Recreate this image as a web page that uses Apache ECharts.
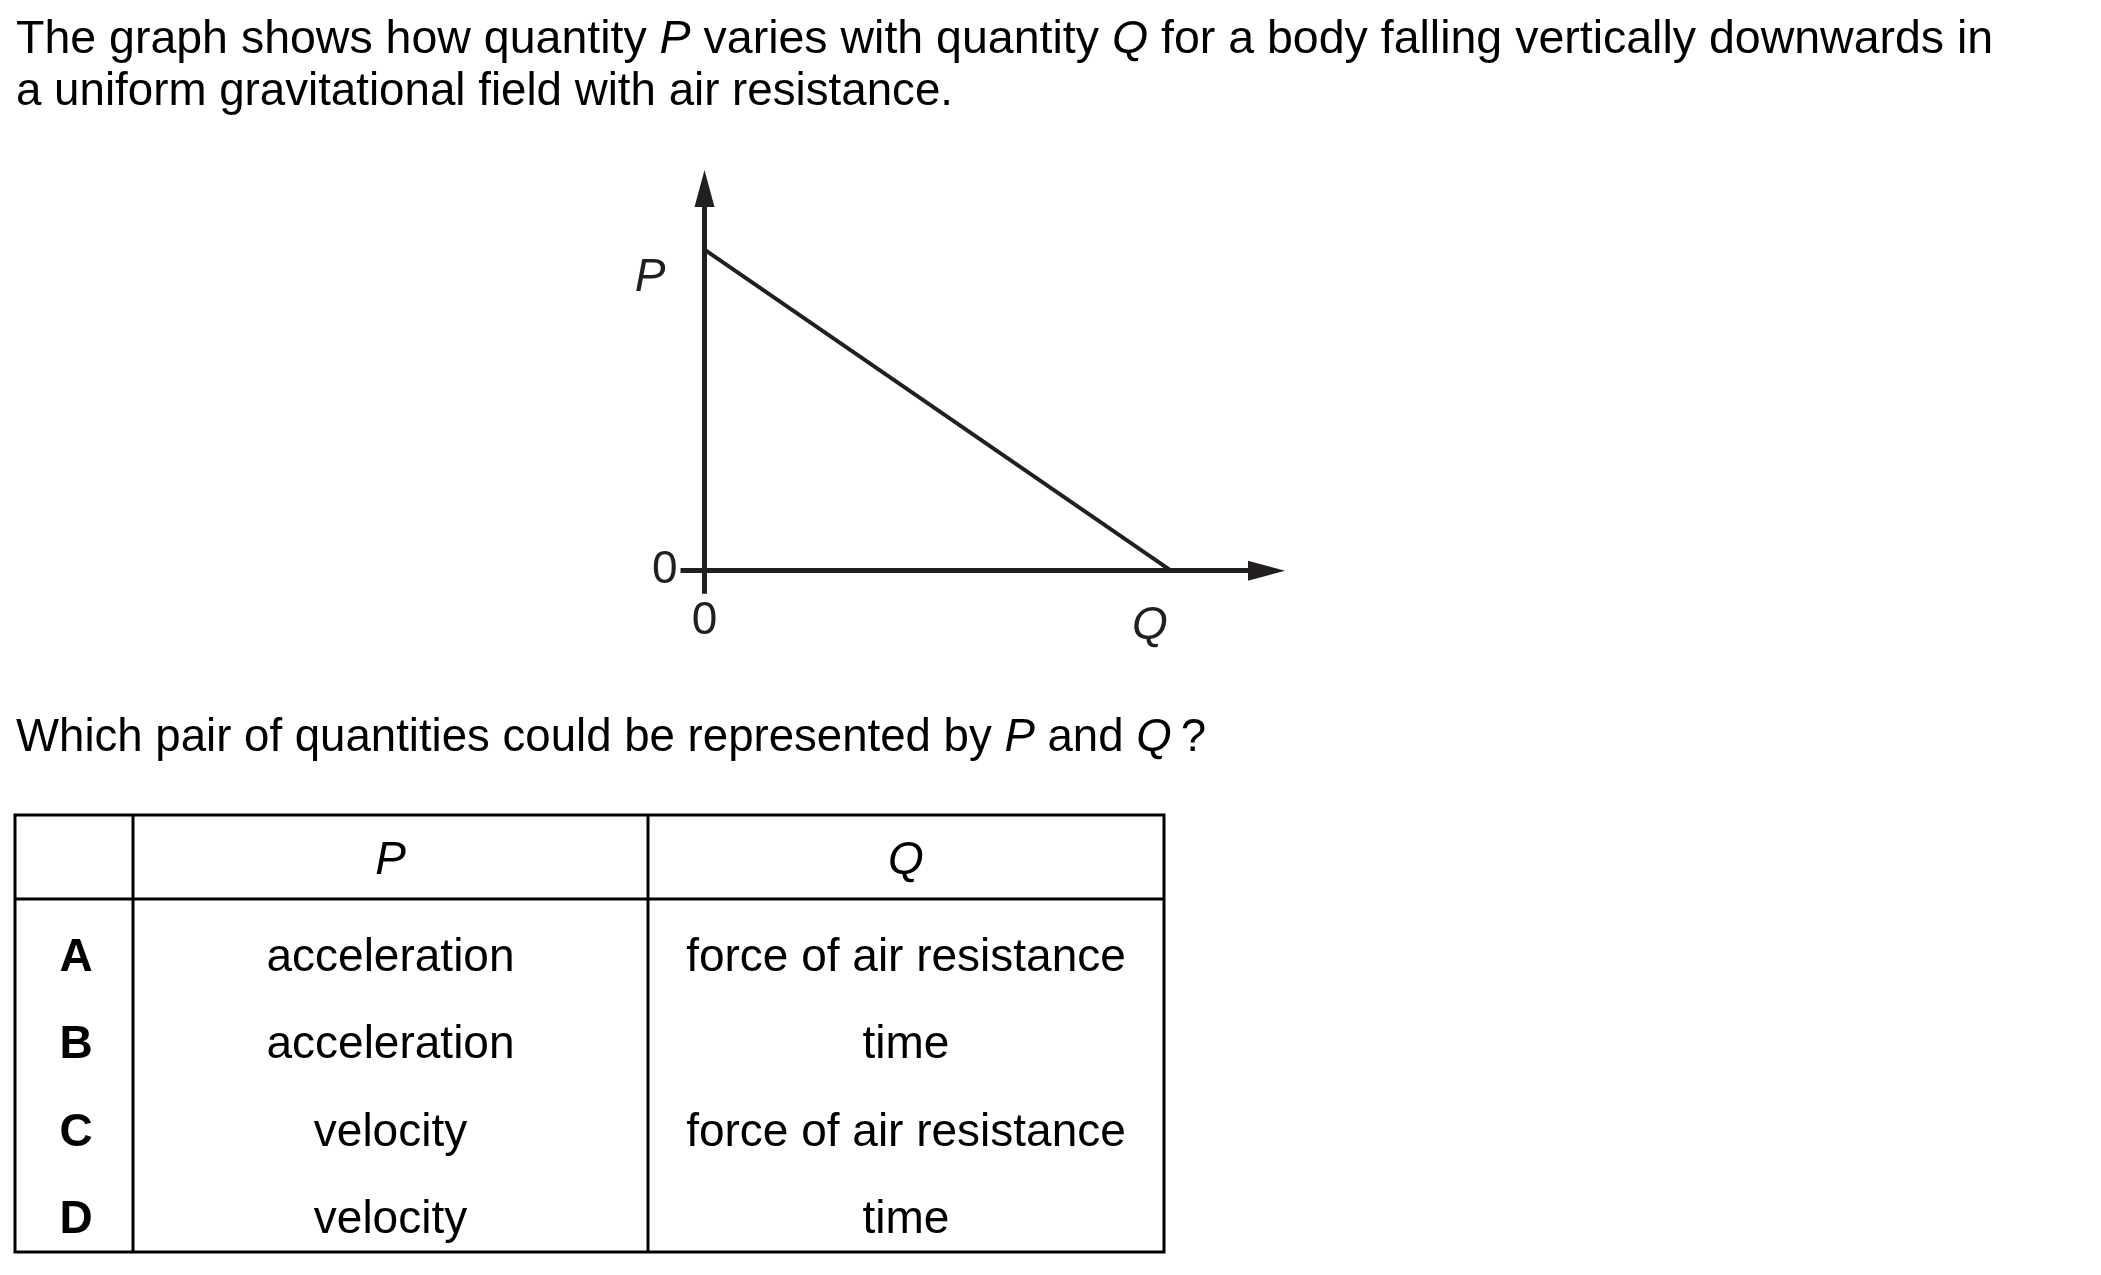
<!DOCTYPE html>
<html>
<head>
<meta charset="utf-8">
<script src="https://cdn.jsdelivr.net/npm/echarts@6/dist/echarts.min.js"></script>
<style>
html,body{margin:0;padding:0;background:#fff;}
#chart{width:2101px;height:1275px;}
</style>
</head>
<body>
<div id="chart"></div>
<script>
// ---- data ----
const qValues = [0, 83];          // quantity Q (arbitrary units)
const pValues = [84, 0];          // quantity P (arbitrary units)
const axisTickValues = [0];       // only the zero is marked on each axis
const axisMaxQ = 100;
const axisMaxP = 100;

const introLines = [
  'The graph shows how quantity {i|P} varies with quantity {i|Q} for a body falling vertically downwards in',
  'a uniform gravitational field with air resistance.'
];
const questionText = 'Which pair of quantities could be represented by {i|P} and {i|Q}\u2009?';
const tableHeader = ['', 'P', 'Q'];
const rowLetters = ['A', 'B', 'C', 'D'];
const pColumn = ['acceleration', 'acceleration', 'velocity', 'velocity'];
const qColumn = ['force of air resistance', 'time', 'force of air resistance', 'time'];

// ---- styling ----
const FONT = '"Liberation Sans", Arial, Helvetica, sans-serif';
const FS = 46;
const INK = '#231f20';

const seriesData = qValues.map((q, i) => [q, pValues[i]]);

const graphics = [];
function txt(text, x, y, opts) {
  opts = opts || {};
  const fs = opts.fontSize || FS;
  graphics.push({
    type: 'text', x: x, y: y, silent: true,
    style: Object.assign({
      text: text, fontSize: fs, fontFamily: FONT, fill: '#000',
      align: 'left', verticalAlign: 'middle',
      rich: { i: { fontStyle: 'italic', fontSize: fs, fontFamily: FONT, fill: '#000' } }
    }, opts)
  });
}
// intro text (first line of the paragraph is justified in the original)
const introSizes = [46.5, 45.7];
introLines.forEach((l, k) => txt(l, 16, 40 + k * 52, { fontSize: introSizes[k] }));
txt(questionText, 16, 738, { fontSize: 45.6 });
// axis names
txt('P', 650, 278, { align: 'center', fontStyle: 'italic', fill: INK });
txt('Q', 1150, 626, { align: 'center', fontStyle: 'italic', fill: INK });

// table
const T = { left: 15, right: 1164, top: 815, bottom: 1252, c1: 133, c2: 648, head: 899 };
const LW = 3;
graphics.push({ type: 'rect', shape: { x: T.left, y: T.top, width: T.right - T.left, height: T.bottom - T.top },
  style: { fill: 'none', stroke: '#000', lineWidth: LW } });
[[T.c1, T.top, T.c1, T.bottom], [T.c2, T.top, T.c2, T.bottom], [T.left, T.head, T.right, T.head]].forEach(s => {
  graphics.push({ type: 'line', shape: { x1: s[0], y1: s[1], x2: s[2], y2: s[3] }, style: { stroke: '#000', lineWidth: LW } });
});
const colCenters = [(T.left + T.c1) / 2 + 2, (T.c1 + T.c2) / 2, (T.c2 + T.right) / 2];
txt(tableHeader[1], colCenters[1], 861, { align: 'center', fontStyle: 'italic' });
txt(tableHeader[2], colCenters[2], 861, { align: 'center', fontStyle: 'italic' });
const rowY = [958, 1045.5, 1133, 1220.5];
rowLetters.forEach((r, i) => {
  txt(r, colCenters[0], rowY[i], { align: 'center', fontWeight: 'bold' });
  txt(pColumn[i], colCenters[1], rowY[i], { align: 'center' });
  txt(qColumn[i], colCenters[2], rowY[i], { align: 'center' });
});

const axisLineStyle = { color: INK, width: 5 };
const chart = echarts.init(document.getElementById('chart'), null, { renderer: 'canvas' });
chart.setOption({
  animation: false,
  backgroundColor: '#fff',
  grid: { left: 704.5, bottom: 704.3, top: 188.5, right: 834.5, containLabel: false },
  xAxis: {
    type: 'value', min: 0, max: axisMaxQ,
    axisLine: { show: true, onZero: false, symbol: ['none', 'triangle'], symbolSize: [20, 37], lineStyle: axisLineStyle },
    axisTick: { show: true, customValues: axisTickValues, length: 23, lineStyle: axisLineStyle },
    axisLabel: { show: true, customValues: axisTickValues, margin: 51, verticalAlign: 'middle',
      fontSize: FS, fontFamily: FONT, color: INK },
    splitLine: { show: false }
  },
  yAxis: {
    type: 'value', min: 0, max: axisMaxP,
    axisLine: { show: true, onZero: false, symbol: ['none', 'triangle'], symbolSize: [20, 37], lineStyle: axisLineStyle },
    axisTick: { show: true, customValues: axisTickValues, length: 24, lineStyle: axisLineStyle },
    axisLabel: { show: true, customValues: axisTickValues, margin: 27, align: 'right', verticalAlign: 'middle',
      fontSize: FS, fontFamily: FONT, color: INK },
    splitLine: { show: false }
  },
  series: [{
    type: 'line', data: seriesData, showSymbol: false, symbol: 'none',
    lineStyle: { color: INK, width: 4 }, z: 1
  }],
  graphic: graphics
});
</script>
</body>
</html>
